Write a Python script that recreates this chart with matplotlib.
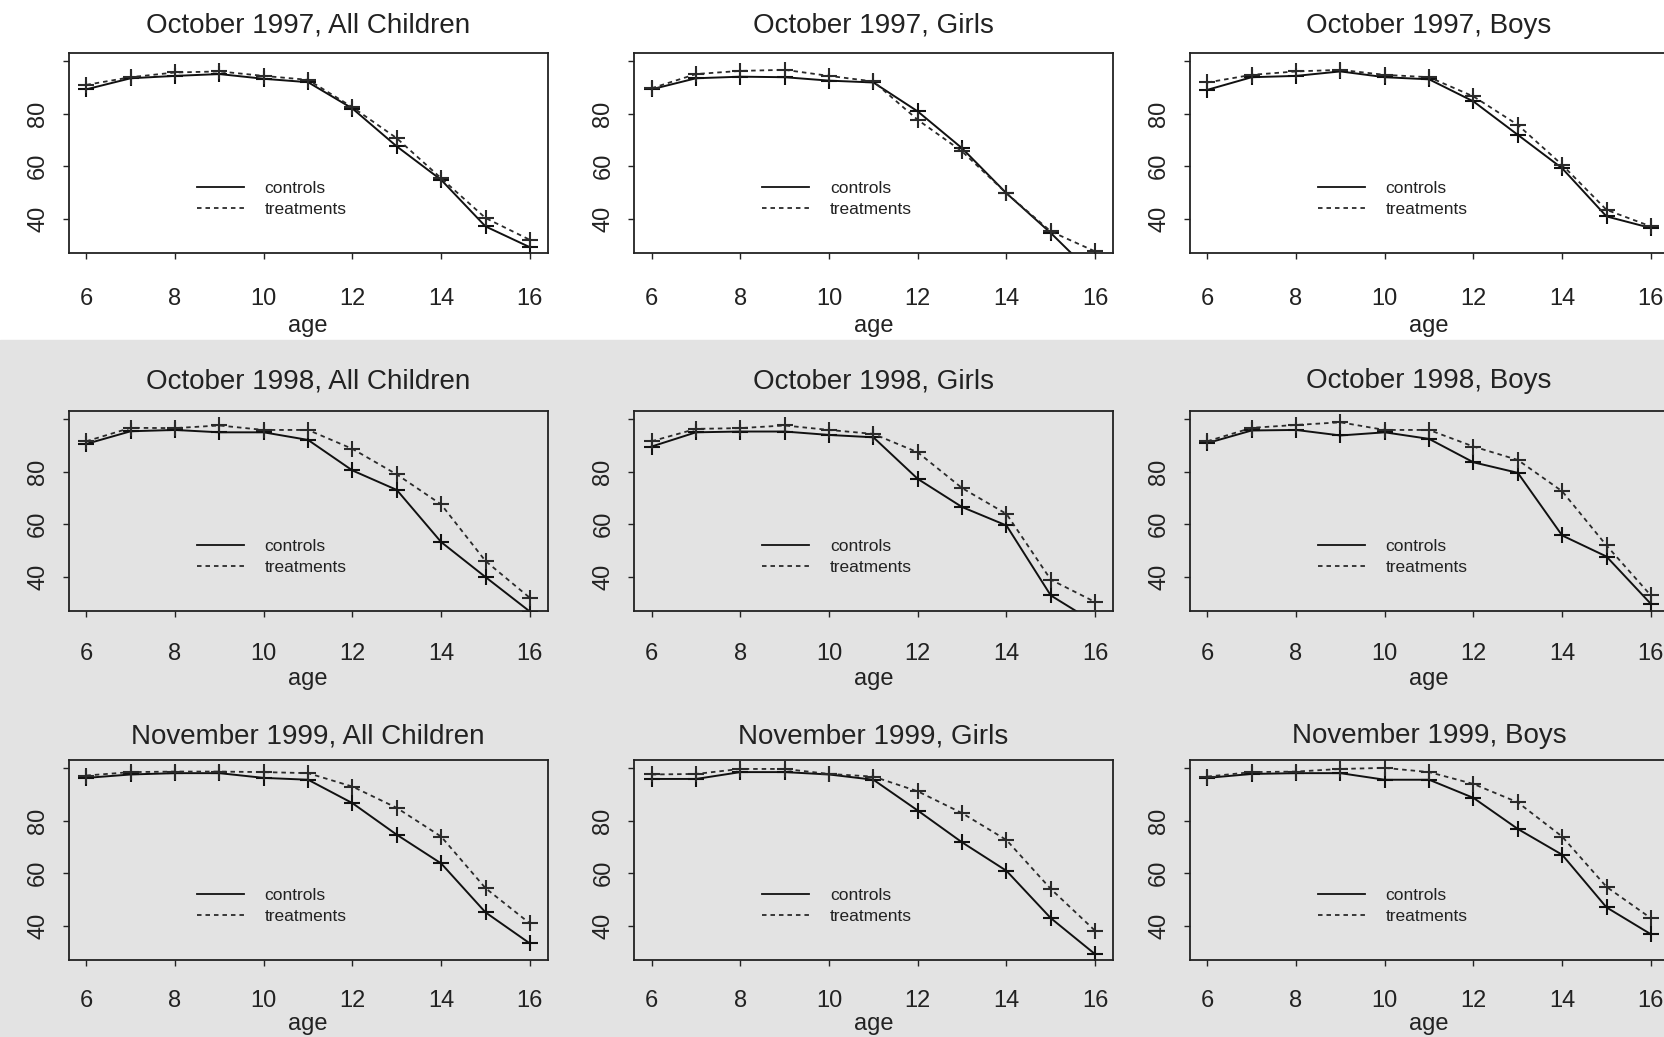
import matplotlib.pyplot as plt
from matplotlib.lines import Line2D
from matplotlib.patches import Rectangle

plt.rcParams['font.family'] = ['Liberation Sans', 'DejaVu Sans']

ages = [6, 7, 8, 9, 10, 11, 12, 13, 14, 15, 16]

# enrollment rates (%), controls vs treatments
ctrl_oct97_all = [89.2, 93.4, 94.3, 95.0, 93.2, 91.9, 81.9, 67.5, 54.8, 37.1, 29.2]
trt_oct97_all = [90.9, 93.8, 95.6, 96.0, 94.3, 92.8, 82.4, 70.6, 55.4, 40.3, 32.0]
ctrl_oct97_girls = [89.2, 93.4, 94.0, 93.8, 92.5, 91.8, 80.8, 66.8, 49.7, 34.6, 18.0]
trt_oct97_girls = [89.6, 95.0, 96.2, 96.6, 94.3, 92.2, 77.6, 65.6, 49.7, 35.2, 27.6]
ctrl_oct97_boys = [89.0, 93.8, 94.3, 96.0, 93.8, 93.0, 84.6, 71.9, 59.2, 40.9, 36.5]
trt_oct97_boys = [91.8, 94.7, 96.0, 96.6, 94.7, 93.8, 86.5, 75.7, 60.5, 43.4, 37.1]

ctrl_oct98_all = [90.5, 95.3, 95.8, 94.9, 94.9, 92.0, 80.4, 73.0, 53.2, 39.9, 26.8]
trt_oct98_all = [91.5, 96.6, 96.5, 97.5, 95.8, 95.8, 88.6, 78.9, 67.5, 46.0, 32.0]
ctrl_oct98_girls = [89.5, 94.9, 95.2, 95.2, 93.9, 93.0, 77.2, 66.5, 59.5, 32.9, 22.5]
trt_oct98_girls = [91.5, 96.2, 96.5, 97.5, 95.8, 94.3, 87.3, 73.7, 63.9, 38.9, 30.4]
ctrl_oct98_boys = [90.8, 95.6, 95.8, 93.7, 94.9, 92.4, 83.5, 79.5, 55.7, 47.7, 29.7]
trt_oct98_boys = [91.5, 96.6, 97.7, 98.7, 95.8, 95.8, 89.5, 84.4, 72.5, 51.9, 32.9]

ctrl_nov99_all = [96.2, 97.5, 98.0, 98.0, 96.2, 95.5, 86.6, 74.6, 63.7, 45.1, 33.3]
trt_nov99_all = [97.1, 98.4, 98.6, 98.6, 98.4, 98.0, 92.9, 84.8, 73.9, 54.3, 40.9]
ctrl_nov99_girls = [95.8, 95.8, 98.4, 98.4, 97.5, 95.5, 83.8, 71.7, 60.9, 42.9, 29.2]
trt_nov99_girls = [97.5, 97.7, 99.6, 99.6, 97.7, 96.7, 91.1, 82.8, 72.6, 54.0, 38.1]
ctrl_nov99_boys = [96.2, 97.7, 98.0, 98.0, 95.5, 95.5, 88.6, 76.8, 67.0, 47.0, 36.8]
trt_nov99_boys = [96.7, 98.4, 98.6, 99.6, 100.0, 98.4, 93.9, 86.9, 73.9, 54.8, 42.9]

titles = [
    ["October 1997, All Children", "October 1997, Girls", "October 1997, Boys"],
    ["October 1998, All Children", "October 1998, Girls", "October 1998, Boys"],
    ["November 1999, All Children", "November 1999, Girls", "November 1999, Boys"],
]
controls = [
    [ctrl_oct97_all, ctrl_oct97_girls, ctrl_oct97_boys],
    [ctrl_oct98_all, ctrl_oct98_girls, ctrl_oct98_boys],
    [ctrl_nov99_all, ctrl_nov99_girls, ctrl_nov99_boys],
]
treatments = [
    [trt_oct97_all, trt_oct97_girls, trt_oct97_boys],
    [trt_oct98_all, trt_oct98_girls, trt_oct98_boys],
    [trt_nov99_all, trt_nov99_girls, trt_nov99_boys],
]

W, H = 1665, 1037
col_left = [68.6, 633.9, 1189.6]
row_top = [53, 411, 760]
ax_w, ax_h = 479, 200
title_pad = [14.5, 16.5, 12]
xtick_pad = [21, 19, 17.5]
xlabel_pad = [3.5, 2, 0.5]

ink = "#222222"
dash = (0, (2.5, 2.2))

fig = plt.figure(figsize=(W / 100, H / 100), dpi=100)
# grey band behind the lower two rows
fig.add_artist(Rectangle((0, 0), 1, (H - 340) / H, transform=fig.transFigure,
                         color="#e3e3e3", zorder=-10))

for r in range(3):
    for c in range(3):
        ax = fig.add_axes([col_left[c] / W, (H - row_top[r] - ax_h) / H, ax_w / W, ax_h / H])
        ax.set_facecolor("none")
        ax.plot(ages, controls[r][c], color="#111111", lw=1.4,
                marker="+", ms=11, mew=1.5)
        ax.plot(ages, treatments[r][c], color="#2a2a2a", lw=1.3, ls=dash,
                marker="+", ms=11, mew=1.5)
        ax.set_xlim(5.6, 16.4)
        ax.set_ylim(27, 103)
        ax.set_xticks([6, 8, 10, 12, 14, 16])
        ax.set_yticks([40, 60, 80, 100])
        ax.set_yticklabels(["40", "60", "80", ""], rotation=90, va="center")
        ax.tick_params(axis="x", length=4, width=1, pad=xtick_pad[r], labelsize=17, colors=ink)
        ax.tick_params(axis="y", length=4, width=1, pad=10, labelsize=17, colors=ink)
        for s in ax.spines.values():
            s.set_linewidth(1.3)
            s.set_color(ink)
        ax.set_xlabel("age", fontsize=17, color=ink, labelpad=xlabel_pad[r])
        ax.set_title(titles[r][c], fontsize=20, color=ink, pad=title_pad[r])

        handles = [Line2D([], [], color="#111111", lw=1.3),
                   Line2D([], [], color="#2a2a2a", lw=1.3, ls=dash)]
        ax.legend(handles, ["controls", "treatments"], loc="center left",
                  bbox_to_anchor=(0.268, 0.27), frameon=False, fontsize=12.5,
                  handlelength=2.7, handletextpad=1.2, labelspacing=0.3,
                  borderpad=0, borderaxespad=0, labelcolor=ink)

fig.savefig("out.png", dpi=100)
